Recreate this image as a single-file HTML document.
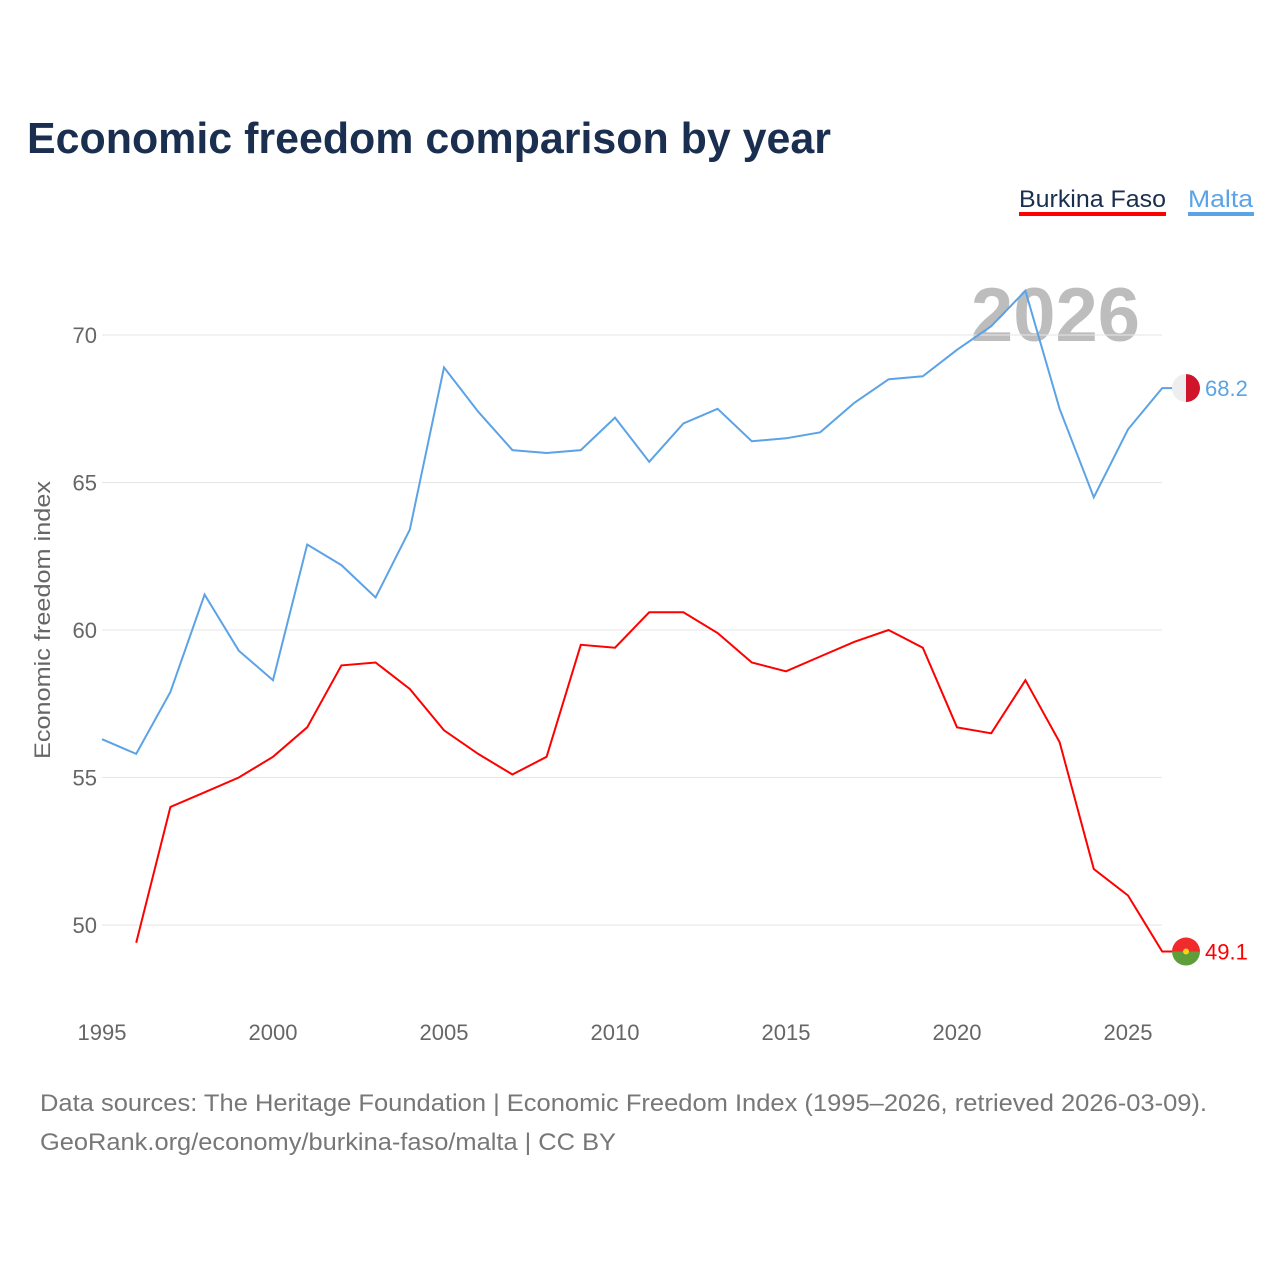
<!DOCTYPE html>
<html><head><meta charset="utf-8"><style>
body{margin:0;background:#fff;font-family:"Liberation Sans",sans-serif}
#wrap{position:relative;width:1280px;height:1280px}
</style></head><body>
<div id="wrap">
<svg id="chart" width="1280" height="1280">
<text x="27" y="153" font-size="44" font-weight="bold" fill="#1a2e4f" textLength="804" lengthAdjust="spacingAndGlyphs">Economic freedom comparison by year</text>
<g>
<text x="1019" y="207" font-size="24" fill="#1a2e4f" textLength="147" lengthAdjust="spacingAndGlyphs">Burkina Faso</text>
<rect x="1019" y="212" width="147" height="4" fill="#ff0000"/>
<text x="1188" y="207" font-size="24" fill="#5ba3e6" textLength="65" lengthAdjust="spacingAndGlyphs">Malta</text>
<rect x="1188" y="212" width="66" height="4" fill="#5ba3e6"/>
</g>
<text x="1140" y="341" font-size="76" font-weight="bold" fill="#bdbdbd" text-anchor="end">2026</text>
<g id="grid"></g><g id="lines"></g><g id="labels"></g>
<text transform="translate(50,620) rotate(-90)" font-size="22" fill="#666" text-anchor="middle" textLength="278" lengthAdjust="spacingAndGlyphs">Economic freedom index</text>
<text x="40" y="1111" font-size="24" fill="#777" textLength="1167" lengthAdjust="spacingAndGlyphs">Data sources: The Heritage Foundation | Economic Freedom Index (1995–2026, retrieved 2026-03-09).</text>
<text x="40" y="1150" font-size="24" fill="#777" textLength="576" lengthAdjust="spacingAndGlyphs">GeoRank.org/economy/burkina-faso/malta | CC BY</text>
</svg></div>
<script>
const years=[1995,1996,1997,1998,1999,2000,2001,2002,2003,2004,2005,2006,2007,2008,2009,2010,2011,2012,2013,2014,2015,2016,2017,2018,2019,2020,2021,2022,2023,2024,2025,2026];
const maltaValues=[56.3,55.8,57.9,61.2,59.3,58.3,62.9,62.2,61.1,63.4,68.9,67.4,66.1,66.0,66.1,67.2,65.7,67.0,67.5,66.4,66.5,66.7,67.7,68.5,68.6,69.5,70.3,71.5,67.5,64.5,66.8,68.2];
const burkinaValues=[null,49.4,54.0,54.5,55.0,55.7,56.7,58.8,58.9,58.0,56.6,55.8,55.1,55.7,59.5,59.4,60.6,60.6,59.9,58.9,58.6,59.1,59.6,60.0,59.4,56.7,56.5,58.3,56.2,51.9,51.0,49.1];
const yTicks=[50,55,60,65,70];
const xTicks=[1995,2000,2005,2010,2015,2020,2025];
const NS="http://www.w3.org/2000/svg";
const xS=y=>102+(y-1995)*(1128-102)/30;
const yS=v=>335+(70-v)*29.5;
function mk(t,a,p){const e=document.createElementNS(NS,t);for(const k in a)e.setAttribute(k,a[k]);p.appendChild(e);return e;}
const grid=document.getElementById('grid'),lines=document.getElementById('lines'),labels=document.getElementById('labels');
yTicks.forEach(v=>{
 const l=mk('line',{x1:102,x2:1162,y1:yS(v),y2:yS(v),stroke:'#e6e6e6','stroke-width':1},grid);
 
 
 const t=mk('text',{x:97,y:yS(v)+8,'font-size':22,fill:'#666','text-anchor':'end'},grid);
 t.textContent=v;
 
 
});
xTicks.forEach(v=>{
 const t=mk('text',{x:xS(v),y:1040,'font-size':22,fill:'#666','text-anchor':'middle'},grid);
 t.textContent=v;
 
 
});
function series(vals,color,name){
 let d='';let last=null;
 vals.forEach((v,i)=>{if(v==null)return;d+=(d?'L':'M')+xS(years[i]).toFixed(1)+','+yS(v).toFixed(1);last=v;});
 d+='L1186,'+yS(last).toFixed(1);
 const p=mk('path',{d:d,fill:'none',stroke:color,'stroke-width':2},lines);
 
 
 const t=mk('text',{x:1205,y:yS(last)+8,'font-size':22,fill:color},labels);
 t.textContent=last.toFixed(1);
 
 
 return yS(last);
}
const ym=series(maltaValues,'#5ba3e6','malta');
const yb=series(burkinaValues,'#ff0000','burkina-faso');
let g=mk('g',{},labels);


mk('path',{d:`M1186,${ym-14}A14,14 0 0,0 1186,${ym+14}Z`,fill:'#eee'},g);
mk('path',{d:`M1186,${ym-14}A14,14 0 0,1 1186,${ym+14}Z`,fill:'#cf142b'},g);
g=mk('g',{},labels);


mk('path',{d:`M1172,${yb}A14,14 0 0,1 1200,${yb}Z`,fill:'#ef2b2d'},g);
mk('path',{d:`M1172,${yb}A14,14 0 0,0 1200,${yb}Z`,fill:'#5e9e3a'},g);
mk('circle',{cx:1186,cy:yb,r:3,fill:'#fcd116'},g);
</script>
</body></html>
